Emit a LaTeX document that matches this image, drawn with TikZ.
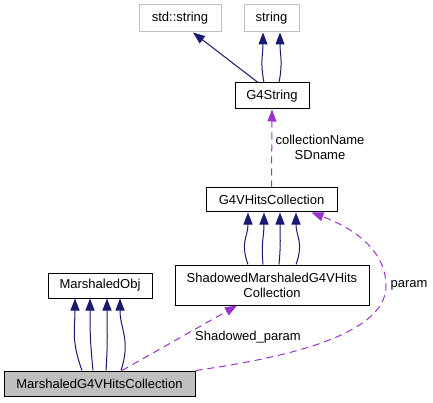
\documentclass[tikz,border=0pt]{standalone}
\usepackage{fontspec}
\setmainfont{Liberation Sans}
\usetikzlibrary{arrows.meta}
\definecolor{inheritblue}{RGB}{25,25,112}
\definecolor{usepurple}{RGB}{154,50,205}
\definecolor{extgray}{RGB}{191,191,191}
\begin{document}
\begin{tikzpicture}[x=1pt,y=-1pt,
	classnode/.style={rectangle,draw=black,fill=white,line width=1pt,inner sep=0pt,minimum height=25pt,align=center,font=\fontsize{13}{15}\selectfont},
	extnode/.style={classnode,draw=extgray},
	mainnode/.style={classnode,fill=extgray},
	inherit/.style={draw=inheritblue,line width=1pt,-{Triangle[length=12pt,width=9pt,fill=inheritblue]}},
	uses/.style={draw=usepurple,line width=1pt,dash pattern=on 7pt off 5pt,-{Triangle[length=12pt,width=9pt,fill=usepurple]}},
	edgelabel/.style={font=\fontsize{13}{15}\selectfont,align=center}
]
\useasboundingbox (0,0) rectangle (433,403);

% Klassen
\node[extnode,minimum width=82pt,minimum height=27pt] (stdstring) at (180,18.5) {std::string};
\node[extnode,minimum width=55pt,minimum height=27pt] (string) at (271.5,18.5) {string};
\node[classnode,minimum width=74pt,minimum height=26pt] (g4string) at (272,96) {G4String};
\node[classnode,minimum width=131pt,minimum height=24pt] (g4vhits) at (271.5,200) {G4VHitsCollection};
\node[classnode,minimum width=194pt,minimum height=40pt] (shadowed) at (272,285) {ShadowedMarshaledG4VHits\\Collection};
\node[classnode,minimum width=104pt] (marshobj) at (100,285.5) {MarshaledObj};
\node[mainnode,minimum width=191pt] (marshg4v) at (99.5,383.5) {MarshaledG4VHitsCollection};

% Vererbung
\draw[inherit] ([xshift=-14pt]g4string.north) -- ([xshift=13pt]stdstring.south);
\draw[inherit] ([xshift=-8pt]g4string.north) .. controls +(-4,-20) and +(0,22) .. ([xshift=-8.5pt]string.south);
\draw[inherit] ([xshift=7pt]g4string.north) .. controls +(4,-20) and +(0,22) .. ([xshift=8.5pt]string.south);

\draw[inherit] ([xshift=-24pt]shadowed.north) .. controls +(-8,-22) and +(0,24) .. ([xshift=-23.5pt]g4vhits.south);
\draw[inherit] ([xshift=-9pt]shadowed.north) .. controls +(-2,-22) and +(0,24) .. ([xshift=-7.5pt]g4vhits.south);
\draw[inherit] ([xshift=7pt]shadowed.north) .. controls +(2,-22) and +(0,24) .. ([xshift=8.5pt]g4vhits.south);
\draw[inherit] ([xshift=24pt]shadowed.north) .. controls +(8,-22) and +(0,24) .. ([xshift=24.5pt]g4vhits.south);

\draw[inherit] ([xshift=-17.5pt]marshg4v.north) .. controls +(-11,-30) and +(0,30) .. ([xshift=-25pt]marshobj.south);
\draw[inherit] ([xshift=-6.5pt]marshg4v.north) .. controls +(-3,-30) and +(0,30) .. ([xshift=-10pt]marshobj.south);
\draw[inherit] ([xshift=6.5pt]marshg4v.north) .. controls +(2,-30) and +(0,30) .. ([xshift=7pt]marshobj.south);
\draw[inherit] ([xshift=21.5pt]marshg4v.north) .. controls +(10,-30) and +(0,30) .. ([xshift=20pt]marshobj.south);

% Member
\draw[uses] (g4vhits.north) -- (g4string.south);
\node[edgelabel] (namelabel) at (320,147) {collectionName\\SDname};

\draw[uses] ([xshift=22.5pt]marshg4v.north) -- ([xshift=-35pt]shadowed.south);
\node[edgelabel] (shadowlabel) at (248,337) {Shadowed\_param};

\draw[uses] (marshg4v.north east) .. controls (305,355) and (387,330) .. (386,285)
	.. controls (385,245) and (345,225) .. ([xshift=40pt]g4vhits.south);
\node[edgelabel] (paramlabel) at (409,285) {param};

\end{tikzpicture}
\end{document}
